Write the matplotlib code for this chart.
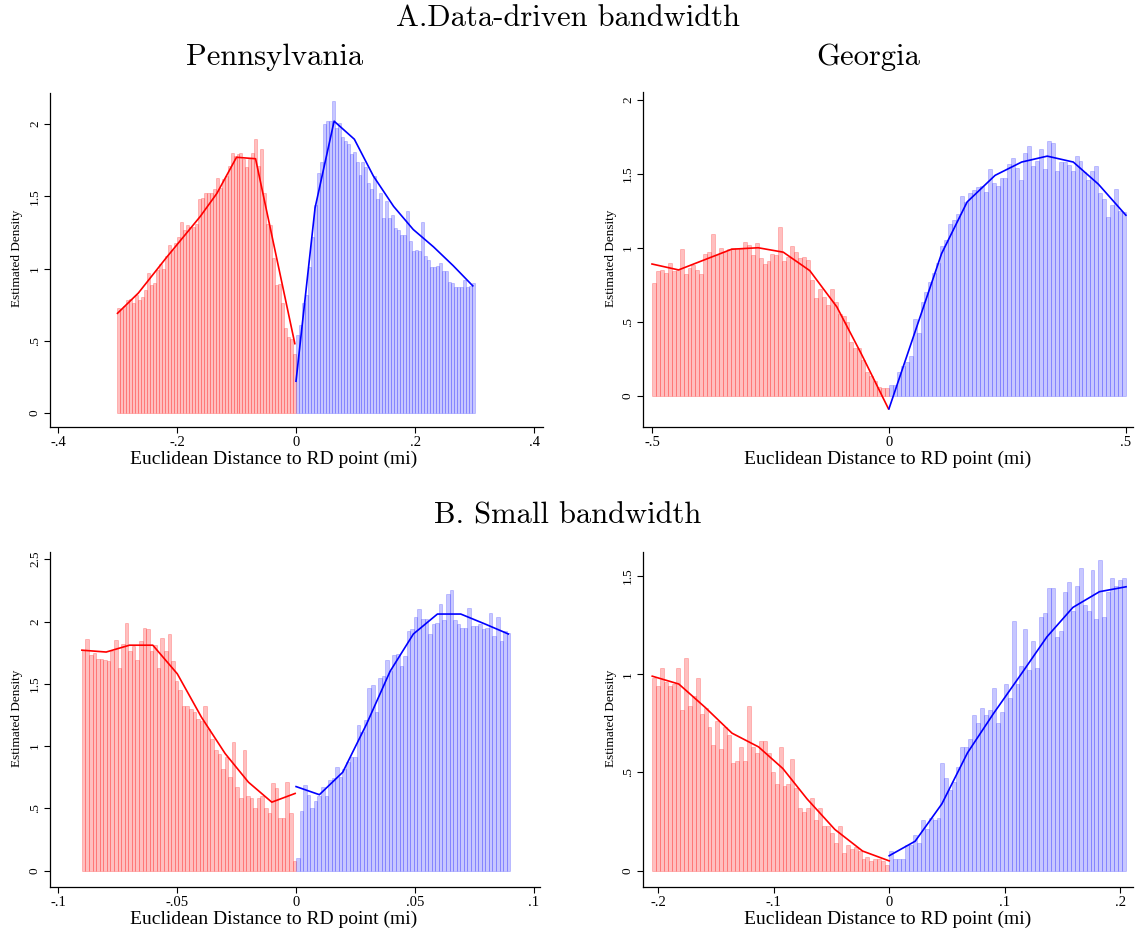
import numpy as np
import matplotlib
matplotlib.use("Agg")
import matplotlib.pyplot as plt

SERIF = ["Liberation Serif", "DejaVu Serif"]
CM = ["cmr10", "DejaVu Serif"]

# ---------- Pennsylvania, data-driven bandwidth ----------
pa_half = 0.3
pa_left = [0.73, 0.72, 0.74, 0.785, 0.79, 0.76, 0.815, 0.785, 0.80, 0.85,
           0.97, 0.885, 0.90, 0.99, 1.03, 1.00, 1.09, 1.16, 1.13, 1.18,
           1.22, 1.32, 1.27, 1.30, 1.29, 1.29, 1.31, 1.48, 1.49, 1.52,
           1.52, 1.52, 1.55, 1.63, 1.56, 1.62, 1.64, 1.71, 1.80, 1.78,
           1.79, 1.80, 1.76, 1.70, 1.76, 1.80, 1.90, 1.71, 1.83, 1.52,
           1.31, 1.30, 1.07, 0.885, 0.89, 0.76, 0.59, 0.525, 0.51, 0.41]
pa_right = [0.54, 0.61, 0.76, 0.82, 1.01, 1.22, 1.44, 1.66, 1.74, 2.00,
            2.02, 2.02, 2.16, 1.97, 2.01, 1.91, 1.88, 1.86, 1.79, 1.81,
            1.74, 1.65, 1.74, 1.70, 1.59, 1.55, 1.64, 1.48, 1.52, 1.35,
            1.47, 1.35, 1.37, 1.28, 1.27, 1.23, 1.23, 1.40, 1.19, 1.12,
            1.13, 1.12, 1.32, 1.09, 1.06, 1.01, 1.01, 1.02, 1.04, 0.98,
            0.98, 0.91, 0.90, 0.87, 0.87, 0.87, 0.92, 0.87, 0.88, 0.90]
pa_fit_left_x = [-0.3, -0.265, -0.217, -0.161, -0.133, -0.10, -0.068, -0.002]
pa_fit_left_y = [0.69, 0.83, 1.08, 1.36, 1.52, 1.77, 1.76, 0.48]
pa_fit_right_x = [0.0, 0.032, 0.064, 0.098, 0.13, 0.164, 0.197, 0.231, 0.264, 0.297]
pa_fit_right_y = [0.22, 1.42, 2.02, 1.895, 1.64, 1.43, 1.27, 1.15, 1.02, 0.88]

# ---------- Georgia, data-driven bandwidth ----------
ga_half = 0.5
ga_left = [0.76, 0.84, 0.85, 0.83, 0.90, 0.84, 0.85, 0.99, 0.82, 0.86,
           0.88, 0.85, 0.82, 0.96, 0.97, 1.09, 0.95, 1.00, 0.97, 0.99,
           1.00, 1.00, 0.99, 1.04, 1.02, 0.95, 1.03, 0.93, 0.89, 0.91,
           0.96, 0.95, 1.14, 0.91, 0.94, 1.01, 0.97, 0.93, 0.94, 0.92,
           0.78, 0.66, 0.72, 0.67, 0.61, 0.72, 0.63, 0.55, 0.54, 0.50,
           0.36, 0.32, 0.32, 0.24, 0.16, 0.13, 0.10, 0.06, 0.05, 0.05]
ga_right = [0.07, 0.07, 0.16, 0.20, 0.23, 0.27, 0.52, 0.42, 0.63, 0.70,
            0.77, 0.83, 0.90, 1.01, 1.05, 1.16, 1.19, 1.23, 1.35, 1.31,
            1.37, 1.39, 1.41, 1.42, 1.38, 1.53, 1.44, 1.42, 1.47, 1.47,
            1.57, 1.61, 1.54, 1.46, 1.64, 1.69, 1.55, 1.59, 1.67, 1.53,
            1.72, 1.71, 1.52, 1.58, 1.58, 1.56, 1.52, 1.62, 1.59, 1.51,
            1.46, 1.52, 1.55, 1.37, 1.33, 1.21, 1.29, 1.40, 1.25, 1.24]
ga_fit_left_x = [-0.5, -0.444, -0.332, -0.276, -0.223, -0.167, -0.110, -0.058, -0.001]
ga_fit_left_y = [0.89, 0.85, 0.99, 1.00, 0.97, 0.845, 0.60, 0.28, -0.09]
ga_fit_right_x = [0.0, 0.111, 0.165, 0.224, 0.280, 0.334, 0.389, 0.442, 0.5]
ga_fit_right_y = [-0.09, 0.96, 1.31, 1.49, 1.58, 1.62, 1.58, 1.43, 1.22]

# ---------- Pennsylvania, small bandwidth ----------
pas_half = 0.09
pas_left = [1.77, 1.86, 1.73, 1.75, 1.70, 1.70, 1.69, 1.68, 1.76, 1.85,
            1.63, 1.82, 1.99, 1.76, 1.80, 1.69, 1.84, 1.95, 1.94, 1.76,
            1.81, 1.63, 1.87, 1.76, 1.90, 1.68, 1.52, 1.45, 1.32, 1.32,
            1.30, 1.27, 1.22, 1.20, 1.32, 1.14, 1.06, 0.97, 0.94, 0.82,
            0.91, 0.75, 1.03, 0.67, 0.58, 0.97, 0.60, 0.58, 0.50, 0.58,
            0.60, 0.50, 0.46, 0.70, 0.66, 0.42, 0.42, 0.71, 0.46, 0.08]
pas_right = [0.10, 0.48, 0.69, 0.61, 0.50, 0.56, 0.60, 0.67, 0.60, 0.73,
             0.74, 0.83, 0.75, 0.82, 0.87, 0.91, 0.91, 1.17, 1.11, 1.21,
             1.47, 1.49, 1.27, 1.55, 1.56, 1.69, 1.60, 1.73, 1.74, 1.64,
             1.72, 1.92, 1.94, 2.04, 2.10, 2.02, 2.02, 1.90, 1.98, 1.99,
             2.14, 2.01, 2.22, 2.25, 2.01, 1.98, 1.95, 1.95, 2.11, 1.96,
             1.96, 1.98, 1.94, 1.95, 2.07, 1.88, 2.04, 1.84, 1.92, 1.91]
pas_fit_left_x = [-0.09, -0.0798, -0.070, -0.0602, -0.0499, -0.0397, -0.0298, -0.0200, -0.0102, -0.0004]
pas_fit_left_y = [1.77, 1.755, 1.81, 1.81, 1.58, 1.23, 0.94, 0.71, 0.55, 0.62]
pas_fit_right_x = [0.0, 0.0098, 0.0196, 0.0297, 0.0395, 0.0493, 0.0594, 0.0692, 0.0794, 0.0892]
pas_fit_right_y = [0.675, 0.61, 0.79, 1.18, 1.60, 1.90, 2.06, 2.06, 1.98, 1.90]

# ---------- Georgia, small bandwidth ----------
gas_half = 0.205
gas_left = [0.98, 0.94, 1.03, 0.96, 0.94, 0.95, 1.03, 0.82, 1.08, 0.84,
            0.89, 0.98, 0.80, 0.83, 0.73, 0.64, 0.76, 0.62, 0.73, 0.69,
            0.55, 0.56, 0.63, 0.56, 0.84, 0.63, 0.60, 0.66, 0.66, 0.60,
            0.50, 0.44, 0.63, 0.43, 0.44, 0.57, 0.42, 0.32, 0.30, 0.32,
            0.37, 0.26, 0.32, 0.23, 0.23, 0.19, 0.14, 0.23, 0.09, 0.13,
            0.11, 0.12, 0.10, 0.06, 0.07, 0.05, 0.06, 0.06, 0.05, 0.03]
gas_right = [0.10, 0.06, 0.06, 0.06, 0.13, 0.13, 0.18, 0.14, 0.26, 0.21,
             0.27, 0.26, 0.27, 0.55, 0.47, 0.41, 0.45, 0.53, 0.63, 0.63,
             0.67, 0.79, 0.75, 0.83, 0.79, 0.82, 0.93, 0.75, 0.81, 0.95,
             0.88, 1.27, 0.95, 1.04, 1.23, 1.02, 1.17, 1.03, 1.29, 1.31,
             1.44, 1.44, 1.19, 1.22, 1.42, 1.47, 1.32, 1.45, 1.54, 1.35,
             1.32, 1.53, 1.28, 1.58, 1.29, 1.42, 1.49, 1.45, 1.48, 1.49]
gas_fit_left_x = [-0.205, -0.182, -0.159, -0.136, -0.113, -0.092, -0.071, -0.047, -0.023, 0.0]
gas_fit_left_y = [0.99, 0.95, 0.83, 0.70, 0.63, 0.52, 0.365, 0.21, 0.10, 0.05]
gas_fit_right_x = [0.0, 0.0225, 0.0456, 0.0678, 0.0903, 0.113, 0.1365, 0.159, 0.182, 0.205]
gas_fit_right_y = [0.076, 0.15, 0.34, 0.60, 0.80, 0.99, 1.19, 1.34, 1.42, 1.445]

# tick values / labels
pa_xt, pa_xl = [-0.4, -0.2, 0, 0.2, 0.4], ["-.4", "-.2", "0", ".2", ".4"]
ga_xt, ga_xl = [-0.5, 0, 0.5], ["-.5", "0", ".5"]
pas_xt, pas_xl = [-0.1, -0.05, 0, 0.05, 0.1], ["-.1", "-.05", "0", ".05", ".1"]
gas_xt, gas_xl = [-0.2, -0.1, 0, 0.1, 0.2], ["-.2", "-.1", "0", ".1", ".2"]
yt_2, yl_2 = [0, 0.5, 1, 1.5, 2], ["0", ".5", "1", "1.5", "2"]
yt_25, yl_25 = [0, 0.5, 1, 1.5, 2, 2.5], ["0", ".5", "1", "1.5", "2", "2.5"]
yt_15, yl_15 = [0, 0.5, 1, 1.5], ["0", ".5", "1", "1.5"]


def draw_panel(ax, half, left, right, fl, fr, xlim, ylim, xt, xl, yt, yl):
    edges_l = np.linspace(-half, 0, len(left) + 1)
    edges_r = np.linspace(0, half, len(right) + 1)
    ax.bar(edges_l[:-1], left, width=np.diff(edges_l), align="edge",
           color=(1, 0, 0, 0.25), edgecolor=(1, 0, 0, 0.25), linewidth=0.6)
    ax.bar(edges_r[:-1], right, width=np.diff(edges_r), align="edge",
           color=(0, 0, 1, 0.22), edgecolor=(0, 0, 1, 0.22), linewidth=0.6)
    ax.plot(fl[0], fl[1], color="red", linewidth=1.2)
    ax.plot(fr[0], fr[1], color="blue", linewidth=1.2)

    ax.set_xlim(*xlim)
    ax.set_ylim(*ylim)
    ax.set_xticks(xt)
    ax.set_xticklabels(xl, fontfamily=SERIF, fontsize=10.5)
    ax.set_yticks(yt)
    ax.set_yticklabels(yl, fontfamily=SERIF, fontsize=9.5, rotation=90, va="center")
    ax.tick_params(axis="both", direction="out", length=4.5, width=0.8, pad=2)
    for s in ["top", "right"]:
        ax.spines[s].set_visible(False)
    for s in ["left", "bottom"]:
        ax.spines[s].set_linewidth(0.9)


fig = plt.figure(figsize=(11.35, 9.34), dpi=100)
W, H = 1135.0, 934.0


def axes_px(x0, x1, ytop, ybot):
    return fig.add_axes([x0 / W, 1 - ybot / H, (x1 - x0) / W, (ybot - ytop) / H])


ax1 = axes_px(50, 543, 93, 427)
draw_panel(ax1, pa_half, pa_left, pa_right, (pa_fit_left_x, pa_fit_left_y),
           (pa_fit_right_x, pa_fit_right_y), (-0.4134, 0.415), (-0.097, 2.215),
           pa_xt, pa_xl, yt_2, yl_2)

ax2 = axes_px(643, 1133, 92, 427)
draw_panel(ax2, ga_half, ga_left, ga_right, (ga_fit_left_x, ga_fit_left_y),
           (ga_fit_right_x, ga_fit_right_y), (-0.519, 0.515), (-0.213, 2.054),
           ga_xt, ga_xl, yt_2, yl_2)

ax3 = axes_px(50, 540, 552, 887)
draw_panel(ax3, pas_half, pas_left, pas_right, (pas_fit_left_x, pas_fit_left_y),
           (pas_fit_right_x, pas_fit_right_y), (-0.1034, 0.1025), (-0.131, 2.558),
           pas_xt, pas_xl, yt_25, yl_25)

ax4 = axes_px(643, 1133, 552, 887)
draw_panel(ax4, gas_half, gas_left, gas_right, (gas_fit_left_x, gas_fit_left_y),
           (gas_fit_right_x, gas_fit_right_y), (-0.213, 0.211), (-0.083, 1.622),
           gas_xt, gas_xl, yt_15, yl_15)

# axis titles
xlab = "Euclidean Distance to RD point (mi)"
for cx, cy in [(274, 459), (888, 459), (274, 919), (888, 919)]:
    fig.text(cx / W, 1 - cy / H, xlab, ha="center", va="center",
             fontfamily=SERIF, fontsize=14)
for cx, cy in [(17, 258), (611, 258), (17, 718), (611, 718)]:
    fig.text(cx / W, 1 - cy / H, "Estimated Density", ha="center", va="center",
             rotation=90, fontfamily=SERIF, fontsize=9.5)

# headings
fig.text(568 / W, 1 - 18 / H, "A.Data-driven bandwidth", ha="center", va="center",
         fontfamily=CM, fontsize=22)
fig.text(275 / W, 1 - 57 / H, "Pennsylvania", ha="center", va="center",
         fontfamily=CM, fontsize=22)
fig.text(868 / W, 1 - 57 / H, "Georgia", ha="center", va="center",
         fontfamily=CM, fontsize=22)
fig.text(568 / W, 1 - 516 / H, "B. Small bandwidth", ha="center", va="center",
         fontfamily=CM, fontsize=22)

fig.savefig("out.png", dpi=100)
